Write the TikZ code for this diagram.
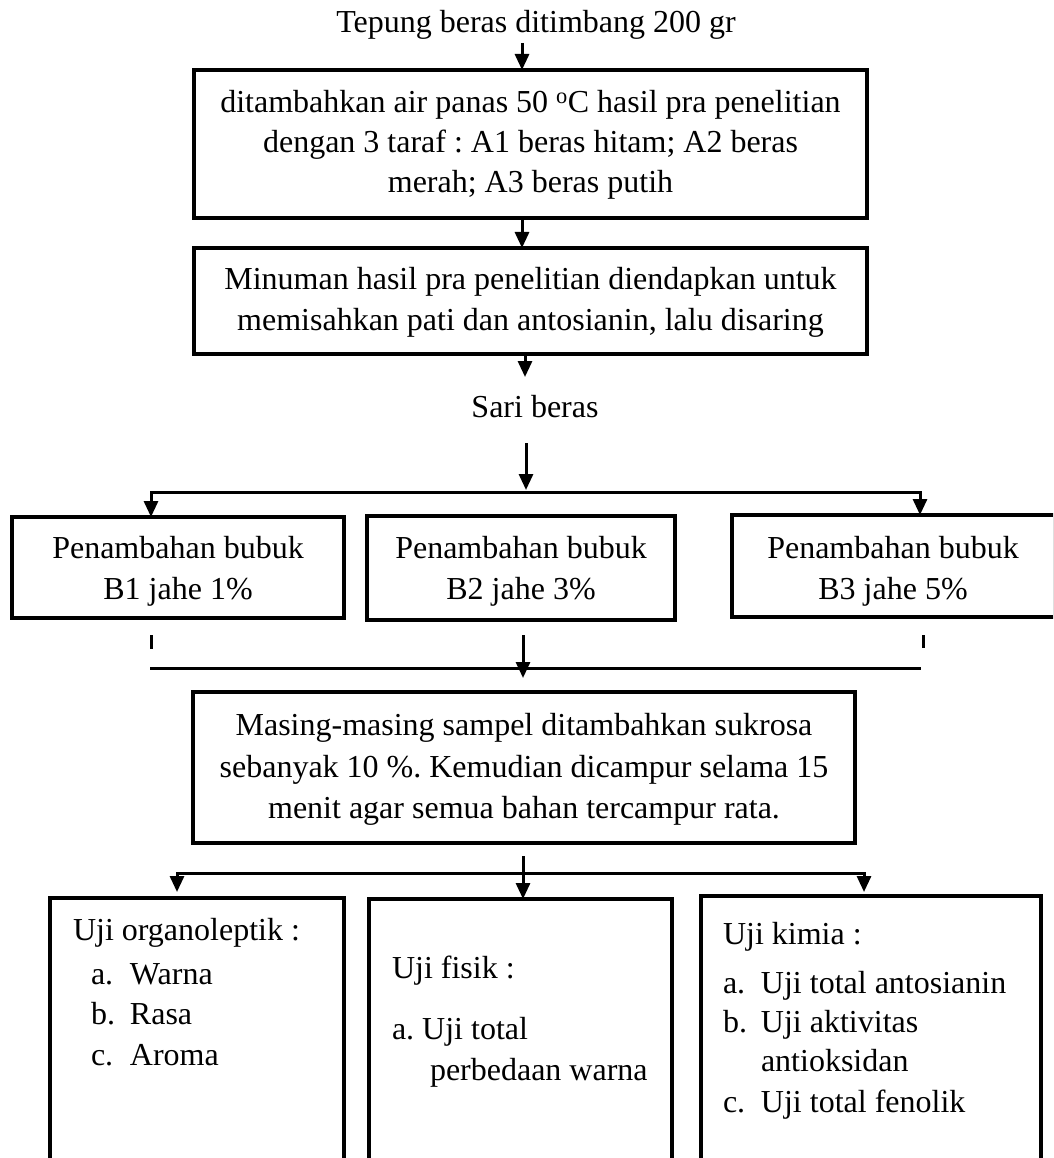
\documentclass[tikz,border=0pt]{standalone}
\usepackage{fontspec}
\setmainfont{Liberation Serif}
\usetikzlibrary{arrows.meta,calc}
\frenchspacing
\begin{document}
\begin{tikzpicture}[x=1pt,y=-1pt,
  box/.style={draw, line width=3.2pt, inner sep=0pt, outer sep=0pt},
  txt/.style={inner sep=0pt, outer sep=0pt, anchor=base, font=\fontsize{32}{40}\selectfont},
  txtl/.style={txt, anchor=base west},
  conn/.style={line width=3pt},
  arr/.style={conn, -{Triangle[width=14pt,length=16pt]}}]
\useasboundingbox (0,0) rectangle (1053,1158);
\clip (0,0) rectangle (1053,1158);
\fill[white] (0,0) rectangle (1053,1158);

% top part
\node[txt] (t0) at (536,33) {Tepung beras ditimbang 200 gr};
\node[box, minimum width=673pt, minimum height=148pt] (box1) at (530.5,144) {};
\node[txt] (b1a) at (530.5,113) {ditambahkan air panas 50 \textsuperscript{o}C hasil pra penelitian};
\node[txt] (b1b) at (530.5,153) {dengan 3 taraf : A1 beras hitam; A2 beras};
\node[txt] (b1c) at (530.5,193) {merah; A3 beras putih};

\node[box, minimum width=673pt, minimum height=106pt] (box2) at (530.5,301) {};
\node[txt] (b2a) at (530.5,289) {Minuman hasil pra penelitian diendapkan untuk};
\node[txt] (b2b) at (530.5,330) {memisahkan pati dan antosianin, lalu disaring};

\node[txt] (sari) at (535,417) {Sari beras};

% B boxes
\node[box, minimum width=332pt, minimum height=101pt] (B1) at (178,567.5) {};
\node[box, minimum width=308pt, minimum height=104pt] (B2) at (521,568) {};
\node[box, minimum width=323pt, minimum height=102pt] (B3) at (893.5,566) {};
\node[txt] (B1a) at (178,558) {Penambahan bubuk};
\node[txt] (B1b) at (178,599) {B1 jahe 1\%};
\node[txt] (B2a) at (521,558) {Penambahan bubuk};
\node[txt] (B2b) at (521,599) {B2 jahe 3\%};
\node[txt] (B3a) at (893,558) {Penambahan bubuk};
\node[txt] (B3b) at (893,599) {B3 jahe 5\%};

% Masing box
\node[box, minimum width=662pt, minimum height=151pt] (M) at (524,767.5) {};
\node[txt] (Ma) at (524,735) {Masing-masing sampel ditambahkan sukrosa};
\node[txt] (Mb) at (524,777) {sebanyak 10 \%. Kemudian dicampur selama 15};
\node[txt] (Mc) at (524,818) {menit agar semua bahan tercampur rata.};

% C boxes
\node[box, minimum width=294pt, minimum height=272pt] (C1) at (197,1034) {};
\node[box, minimum width=303pt, minimum height=271pt] (C2) at (520.5,1034.5) {};
\node[box, minimum width=340pt, minimum height=274pt] (C3) at (871,1033) {};

\node[txtl] (C1h) at (73,940) {Uji organoleptik :};
\node[txtl] (C1a) at (91,984) {\makebox[39pt][l]{a.}Warna};
\node[txtl] (C1b) at (91,1024) {\makebox[39pt][l]{b.}Rasa};
\node[txtl] (C1c) at (91,1065) {\makebox[39pt][l]{c.}Aroma};

\node[txtl] (C2h) at (392,978) {Uji fisik :};
\node[txtl] (C2a) at (392,1039) {a. Uji total};
\node[txtl] (C2b) at (430,1080) {perbedaan warna};

\node[txtl] (C3h) at (723,944) {Uji kimia :};
\node[txtl] (C3a) at (723,993) {\makebox[38pt][l]{a.}Uji total antosianin};
\node[txtl] (C3b) at (723,1032) {\makebox[38pt][l]{b.}Uji aktivitas};
\node[txtl] (C3c) at (761,1071) {antioksidan};
\node[txtl] (C3d) at (723,1112) {\makebox[38pt][l]{c.}Uji total fenolik};

% connectors, top
\coordinate (x1) at (522,0);
\draw[arr] (x1 |- t0.south) ++(0,3) -- (x1 |- box1.north);
\draw[arr] (x1 |- box1.south) -- (x1 |- box2.north);
\coordinate (x2) at (525,0);
\coordinate (s1) at (525,377);
\draw[arr] (x2 |- box2.south) -- (s1);
\coordinate (s2) at (526,443);
\coordinate (jm) at (526,490);
\draw[arr] (s2) -- (jm);

% branch to B boxes
\coordinate (jl) at (151,492);
\coordinate (jr) at (920,492);
\draw[conn, line cap=rect] (jl) -- (jr);
\draw[arr] (jl) -- (jl |- B1.north);
\draw[arr] (jr) -- (jr |- B3.north);

% ticks and merge
\coordinate (k1a) at (151,635);
\coordinate (k1b) at (151,649);
\coordinate (k3a) at (923,635);
\coordinate (k3b) at (923,648);
\draw[conn] (k1a) -- (k1b);
\draw[conn] (k3a) -- (k3b);
\coordinate (ml) at (150,668);
\coordinate (mr) at (921,668);
\draw[conn] (ml) -- (mr);
\coordinate (mt) at (523,635);
\coordinate (mb) at (523,678);
\draw[arr] (mt) -- (mb);

% branch to C boxes
\coordinate (x3) at (523,856);
\draw[arr] (x3) -- (x3 |- C2.north);
\coordinate (cl) at (177,873);
\coordinate (cr) at (864,873);
\draw[conn, line cap=rect] (cl) -- (cr);
\draw[arr] (cl) -- (177,892);
\draw[arr] (cr) -- (864,892);
\end{tikzpicture}
\end{document}
